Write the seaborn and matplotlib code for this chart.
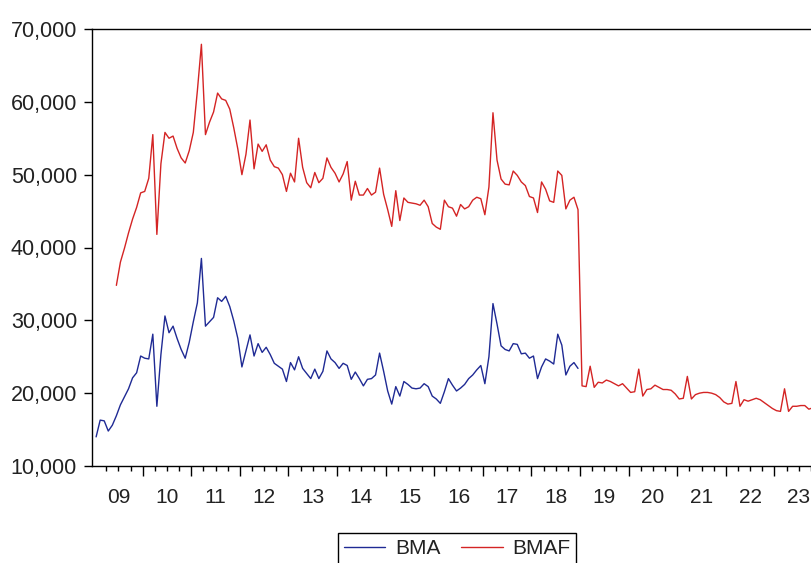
import numpy as np
import pandas as pd
import matplotlib
matplotlib.use("Agg")
import matplotlib.pyplot as plt
import seaborn as sns
from matplotlib.ticker import FixedLocator, StrMethodFormatter, NullFormatter

# ---------------- data (monthly) ----------------
series_names = ["BMA", "BMAF"]
bma_start = (2009, 1)    # first month of BMA
bmaf_start = (2009, 6)   # first month of BMAF

bma = [
    14000, 16300, 16200, 14800, 15600, 16900, 18400, 19500, 20600, 22100,
    22800, 25100, 24800, 24700, 28100, 18200, 25300, 30600, 28300, 29200,
    27500, 26000, 24800, 27000, 29800, 32400, 38500, 29200, 29800, 30400,
    33100, 32600, 33300, 31900, 29900, 27500, 23600, 25800, 28000, 25100,
    26800, 25600, 26300, 25300, 24100, 23700, 23300, 21600, 24200, 23200,
    25000, 23400, 22700, 22000, 23300, 22000, 23000, 25800, 24700, 24200,
    23400, 24100, 23800, 21900, 22900, 22000, 21000, 21900, 22000, 22500,
    25500, 23000, 20300, 18500, 20900, 19600, 21600, 21200, 20700, 20600,
    20700, 21300, 20900, 19600, 19200, 18600, 20200, 22000, 21100, 20300,
    20700, 21200, 22000, 22500, 23200, 23800, 21300, 25000, 32300, 29500,
    26500, 26000, 25800, 26800, 26700, 25400, 25500, 24800, 25100, 22000,
    23600, 24700, 24400, 24000, 28100, 26600, 22500, 23700, 24200, 23400,
]

bmaf = [
    34800, 38000, 39900, 42000, 43900,
    45500, 47500, 47700, 49500, 55500, 41800, 51500, 55800, 55000, 55300,
    53600, 52300, 51600, 53300, 55800, 61500, 67900, 55500, 57200, 58600,
    61200, 60400, 60200, 59000, 56400, 53500, 50000, 52800, 57500, 50800,
    54200, 53200, 54100, 52000, 51100, 50900, 50000, 47700, 50200, 49000,
    55000, 51000, 48900, 48200, 50300, 48900, 49500, 52300, 51000, 50200,
    49000, 50100, 51800, 46500, 49100, 47200, 47200, 48100, 47200, 47600,
    50900, 47300, 45200, 42900, 47800, 43700, 46800, 46200, 46100, 46000,
    45800, 46500, 45600, 43300, 42800, 42500, 46500, 45600, 45400, 44300,
    45900, 45300, 45600, 46500, 46900, 46700, 44500, 48300, 58500, 52000,
    49400, 48700, 48600, 50500, 49900, 49000, 48500, 47000, 46800, 44800,
    49000, 48000, 46400, 46200, 50500, 49900, 45300, 46500, 46900, 45200,
    21000, 20900, 23700, 20800, 21500, 21400, 21800, 21600, 21300, 21000,
    21300, 20700, 20100, 20200, 23300, 19600, 20500, 20600, 21100, 20800,
    20500, 20500, 20400, 19900, 19200, 19300, 22300, 19200, 19800, 20000,
    20100, 20100, 20000, 19800, 19400, 18800, 18500, 18600, 21600, 18200,
    19100, 18900, 19100, 19300, 19100, 18700, 18300, 17900, 17600, 17500,
    20600, 17500, 18200, 18200, 18300, 18300, 17800, 18000, 18200,
]

year_labels = ["09", "10", "11", "12", "13", "14", "15", "16",
               "17", "18", "19", "20", "21", "22", "23"]
y_ticks = [10000, 20000, 30000, 40000, 50000, 60000, 70000]


def month_positions(start, n):
    y0, m0 = start
    return y0 + (m0 - 1 + np.arange(n) + 0.5) / 12.0


df = pd.concat([
    pd.DataFrame({"t": month_positions(bma_start, len(bma)), "value": bma,
                  "series": series_names[0]}),
    pd.DataFrame({"t": month_positions(bmaf_start, len(bmaf)), "value": bmaf,
                  "series": series_names[1]}),
], ignore_index=True)

# ---------------- style ----------------
sns.set_theme(style="white")
plt.rcParams["font.family"] = ["Liberation Sans", "DejaVu Sans"]
text_color = "#222222"
colors = ["#1f2a94", "#d42424"]

W, H = 812, 563
fig = plt.figure(figsize=(W / 100, H / 100), dpi=100)
left_px, right_px, top_px, bot_px = 92.3, 823.0, 29.0, 466.0
ax = fig.add_axes([left_px / W, 1 - bot_px / H,
                   (right_px - left_px) / W, (bot_px - top_px) / H])

sns.lineplot(data=df, x="t", y="value", hue="series", palette=colors,
             estimator=None, linewidth=1.0, ax=ax)

first_year = 2009
ax.set_xlim(first_year - 0.037, first_year + 15.0)
ax.set_ylim(y_ticks[0], y_ticks[-1])
ax.set_xlabel("")
ax.set_ylabel("")

for sp in ax.spines.values():
    sp.set_color("black")
    sp.set_linewidth(1.0)
    sp.set_visible(True)

# x: year boundary ticks (long) + quarter ticks (short)
years = np.arange(first_year + 1, first_year + 16)
quarters = [y + q / 4 for y in range(first_year, first_year + 15) for q in (1, 2, 3)]
ax.xaxis.set_major_locator(FixedLocator(years))
ax.xaxis.set_minor_locator(FixedLocator(quarters))
ax.xaxis.set_major_formatter(NullFormatter())
ax.tick_params(axis="x", which="major", direction="out", length=7, width=1.0,
               color="black", bottom=True)
ax.tick_params(axis="x", which="minor", direction="out", length=3.5, width=1.0,
               color="black", bottom=True)

# year labels centred inside each year
sec = ax.secondary_xaxis("bottom")
sec.set_xticks([first_year + i + 0.5 for i in range(len(year_labels))],
               labels=year_labels)
sec.tick_params(length=0, pad=16, labelsize=15, labelcolor=text_color)
sec.spines["bottom"].set_visible(False)

# y axis
ax.yaxis.set_major_locator(FixedLocator(y_ticks))
ax.yaxis.set_major_formatter(StrMethodFormatter("{x:,.0f}"))
ax.tick_params(axis="y", which="major", direction="out", length=6, width=1.0,
               color="black", pad=5, labelsize=15.5, labelcolor=text_color, left=True)

# legend below the plot
handles, labels = ax.get_legend_handles_labels()
for h in handles:
    h.set_linewidth(1.0)
leg = ax.legend(handles, labels, loc="upper center",
                bbox_to_anchor=(457 / W, 1 - 533 / H), bbox_transform=fig.transFigure,
                borderaxespad=0.0,
                ncol=2, frameon=True, fancybox=False, edgecolor="black",
                fontsize=15, handlelength=2.0, handletextpad=0.45,
                columnspacing=1.0, borderpad=0.3, framealpha=1)
leg.get_frame().set_linewidth(1.0)
for t in leg.get_texts():
    t.set_color(text_color)

fig.savefig("out.png", dpi=100)
